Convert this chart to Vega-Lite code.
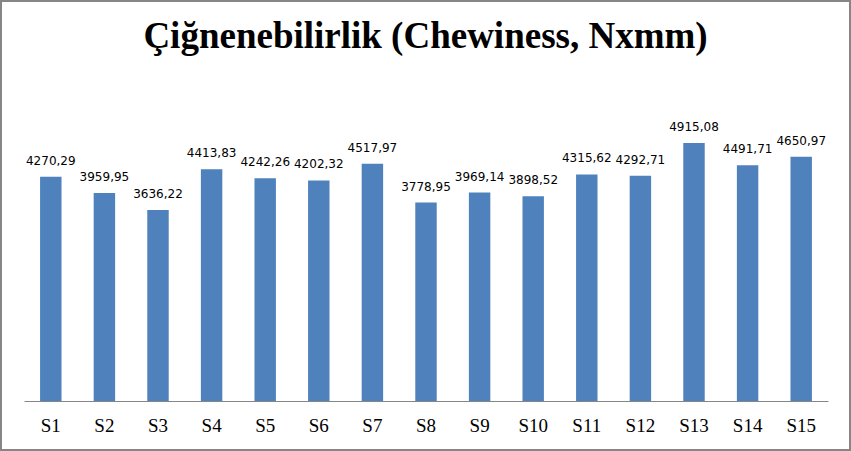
{
  "$schema": "https://vega.github.io/schema/vega-lite/v6.json",
  "width": 851,
  "height": 451,
  "padding": 0,
  "autosize": {"type": "none"},
  "background": "white",
  "config": {
    "view": {"stroke": "#868686", "strokeWidth": 4},
    "locale": {"number": {"decimal": ",", "thousands": ".", "grouping": [3], "currency": ["", ""]}}
  },
  "title": {
    "text": "Çiğnenebilirlik (Chewiness, Nxmm)",
    "font": "Liberation Serif",
    "fontSize": 37,
    "fontWeight": "bold",
    "color": "black",
    "baseline": "alphabetic",
    "anchor": "middle",
    "offset": -85
  },
  "data": {
    "values": [
      {"sample": "S1", "chewiness": 4270.29},
      {"sample": "S2", "chewiness": 3959.95},
      {"sample": "S3", "chewiness": 3636.22},
      {"sample": "S4", "chewiness": 4413.83},
      {"sample": "S5", "chewiness": 4242.26},
      {"sample": "S6", "chewiness": 4202.32},
      {"sample": "S7", "chewiness": 4517.97},
      {"sample": "S8", "chewiness": 3778.95},
      {"sample": "S9", "chewiness": 3969.14},
      {"sample": "S10", "chewiness": 3898.52},
      {"sample": "S11", "chewiness": 4315.62},
      {"sample": "S12", "chewiness": 4292.71},
      {"sample": "S13", "chewiness": 4915.08},
      {"sample": "S14", "chewiness": 4491.71},
      {"sample": "S15", "chewiness": 4650.97}
    ]
  },
  "encoding": {
    "x": {
      "field": "sample",
      "type": "nominal",
      "sort": null,
      "scale": {"range": [24, 828], "paddingInner": 0.6, "paddingOuter": 0.3},
      "axis": {
        "title": null,
        "labelAngle": 0,
        "labelFont": "Liberation Serif",
        "labelFontSize": 19,
        "labelColor": "black",
        "labelPadding": 15,
        "ticks": false,
        "tickSize": 0,
        "domainColor": "#868686",
        "domainWidth": 1,
        "offset": -50,
        "grid": false
      }
    },
    "y": {
      "field": "chewiness",
      "type": "quantitative",
      "scale": {"domain": [0, 6000], "range": [401, 86], "nice": false},
      "axis": null
    }
  },
  "layer": [
    {"mark": {"type": "bar", "color": "#4F81BD"}},
    {
      "mark": {"type": "text", "font": "DejaVu Sans", "fontSize": 12, "color": "black", "baseline": "alphabetic", "dy": -12},
      "encoding": {"text": {"field": "chewiness", "type": "quantitative", "format": ".2f"}}
    }
  ]
}
